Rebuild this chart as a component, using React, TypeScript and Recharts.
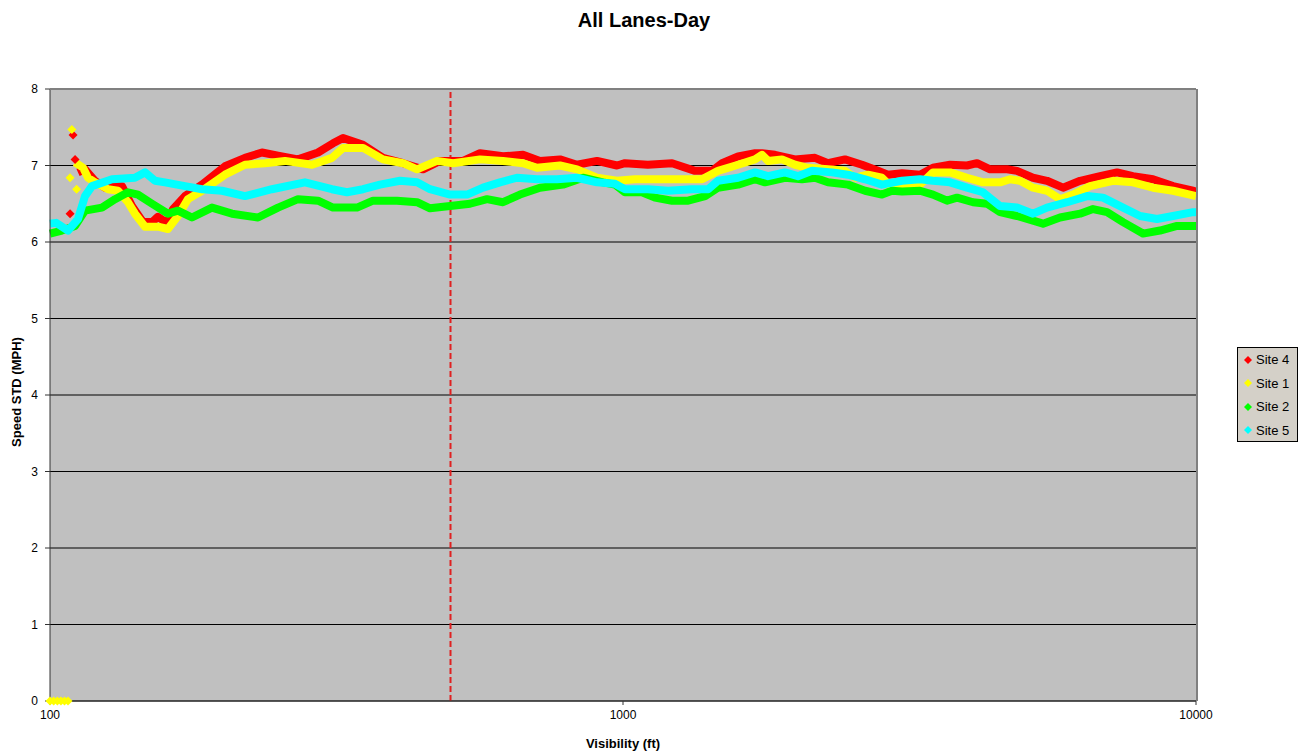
import React from "react";
import {
  ComposedChart,
  Line,
  Scatter,
  XAxis,
  YAxis,
  CartesianGrid,
  ReferenceLine,
} from "recharts";

// visibility (ft) vs speed std (mph)
const VIS_TICKS = [100, 1000, 10000];
const STD_TICKS = [0, 1, 2, 3, 4, 5, 6, 7, 8];
const VIS_CUTOFF = 500;

const site4: [number, number][] = [
  [111.9, 6.91], [115.1, 6.95], [119.8, 6.8], [124.7, 6.71], [128.3, 6.73], [133.6, 6.73],
  [139, 6.47], [144.7, 6.28], [150.7, 6.26], [154.3, 6.33], [160.6, 6.24], [163.9, 6.43],
  [172, 6.6], [184.2, 6.75], [202, 6.99], [218.9, 7.1], [234.4, 7.17], [250, 7.13],
  [270.9, 7.08], [293.6, 7.17], [311.8, 7.29], [324.6, 7.36], [351.8, 7.27], [381.2, 7.1],
  [413.2, 7.03], [447.7, 6.95], [479.4, 7.06], [525.8, 7.06], [562.9, 7.16], [617.4, 7.12],
  [669.1, 7.14], [716.4, 7.06], [776.3, 7.08], [831.2, 7.01], [900.8, 7.06], [976.1, 7.0],
  [1008, 7.03], [1105, 7.01], [1218, 7.03], [1336, 6.93], [1430, 6.93], [1489, 7.03],
  [1588, 7.12], [1700, 7.16], [1748, 7.16], [1842, 7.14], [1996, 7.08], [2163, 7.1],
  [2279, 7.03], [2440, 7.08], [2613, 7.01], [2786, 6.93], [2900, 6.88], [3069, 6.9],
  [3299, 6.88], [3475, 6.97], [3722, 7.01], [3985, 7.0], [4148, 7.03], [4371, 6.95],
  [4680, 6.95], [4871, 6.93], [5194, 6.84], [5495, 6.8], [5861, 6.71], [6277, 6.8],
  [6800, 6.86], [7281, 6.91], [7762, 6.86], [8414, 6.82], [9118, 6.73], [9880, 6.67],
  [10000, 6.66],
];
const site4Stray: [number, number][] = [[108.4, 6.37], [109.7, 7.4], [110.6, 7.08]];

const site1: [number, number][] = [
  [110.6, 7.04], [114.2, 6.97], [116.5, 6.84], [119.8, 6.78], [126.3, 6.69], [131.4, 6.67],
  [136.8, 6.52], [140.7, 6.37], [146.5, 6.2], [154.3, 6.2], [160.6, 6.17], [167.2, 6.34],
  [174.1, 6.56], [184.2, 6.67], [202, 6.88], [218.9, 7.01], [237.3, 7.03], [257.1, 7.06],
  [286.6, 7.01], [310.5, 7.1], [324.6, 7.23], [351.8, 7.23], [381.2, 7.08], [413.2, 7.03],
  [437.1, 6.95], [473.6, 7.06], [505.1, 7.03], [562.9, 7.08], [617.4, 7.06], [669.1, 7.03],
  [707.8, 6.97], [776.3, 7.0], [831.2, 6.95], [900.8, 6.84], [976.1, 6.8], [1049, 6.82],
  [1151, 6.82], [1268, 6.82], [1374, 6.82], [1465, 6.93], [1588, 7.01], [1700, 7.08],
  [1748, 7.14], [1791, 7.06], [1894, 7.08], [1996, 7.01], [2103, 6.97], [2279, 6.95],
  [2440, 6.93], [2541, 6.84], [2676, 6.88], [2831, 6.84], [2947, 6.71], [3069, 6.75],
  [3299, 6.75], [3475, 6.91], [3722, 6.91], [3985, 6.84], [4249, 6.78], [4550, 6.78],
  [4737, 6.82], [4930, 6.8], [5194, 6.71], [5495, 6.67], [5790, 6.56], [6102, 6.62],
  [6531, 6.73], [7165, 6.8], [7762, 6.78], [8414, 6.71], [9118, 6.67], [9880, 6.61],
  [10000, 6.6],
];
const site1Stray: [number, number][] = [
  [100, 0], [101.5, 0], [103, 0], [104.5, 0], [106, 0], [107.5, 0],
  [108.4, 6.84], [109.2, 7.47], [111.3, 6.69],
];

const site2: [number, number][] = [
  [100, 6.11], [104.9, 6.15], [110.6, 6.21], [115.1, 6.41], [123.2, 6.45], [129.9, 6.56],
  [136.8, 6.65], [142.4, 6.62], [150.7, 6.5], [160.6, 6.37], [167.2, 6.41], [176.9, 6.32],
  [191.7, 6.45], [207.8, 6.37], [230.7, 6.32], [250, 6.45], [270.9, 6.56], [293.6, 6.54],
  [311.8, 6.45], [343.4, 6.45], [366.2, 6.54], [403.3, 6.54], [437.1, 6.52], [460.5, 6.44],
  [499.1, 6.47], [540.8, 6.5], [579, 6.56], [617.4, 6.52], [661, 6.62], [716.4, 6.71],
  [785.7, 6.75], [851.5, 6.84], [922.8, 6.78], [968.3, 6.75], [1008, 6.65], [1079, 6.65],
  [1137, 6.58], [1218, 6.54], [1299, 6.54], [1391, 6.6], [1465, 6.71], [1588, 6.75],
  [1700, 6.82], [1769, 6.78], [1917, 6.84], [2053, 6.82], [2163, 6.84], [2279, 6.78],
  [2470, 6.75], [2645, 6.67], [2831, 6.62], [2947, 6.67], [3069, 6.66], [3299, 6.67],
  [3475, 6.62], [3677, 6.54], [3828, 6.58], [4082, 6.52], [4318, 6.5], [4550, 6.39],
  [4871, 6.34], [5194, 6.28], [5408, 6.24], [5790, 6.32], [6277, 6.37], [6611, 6.43],
  [6995, 6.39], [7459, 6.26], [8081, 6.11], [8654, 6.15], [9266, 6.21], [9880, 6.21],
  [10000, 6.21],
];

const site5: [number, number][] = [
  [100, 6.24], [102.5, 6.25], [107.5, 6.15], [111.9, 6.3], [115.1, 6.6], [118.4, 6.73],
  [128.3, 6.82], [140.7, 6.84], [146.5, 6.91], [152.5, 6.8], [158.7, 6.78], [172, 6.73],
  [184.2, 6.69], [199.6, 6.67], [218.9, 6.6], [243.9, 6.69], [278.6, 6.78], [310.5, 6.69],
  [329.9, 6.65], [351.8, 6.69], [376.6, 6.75], [408.2, 6.8], [437.1, 6.78], [460.5, 6.69],
  [499.1, 6.62], [534.3, 6.62], [569.8, 6.71], [610, 6.78], [653.1, 6.84], [707.8, 6.82],
  [766.9, 6.82], [831.2, 6.84], [900.8, 6.78], [968.3, 6.76], [1008, 6.69], [1105, 6.69],
  [1198, 6.67], [1320, 6.69], [1408, 6.69], [1465, 6.8], [1588, 6.84], [1700, 6.91],
  [1791, 6.86], [1917, 6.91], [2020, 6.86], [2137, 6.93], [2316, 6.91], [2470, 6.88],
  [2645, 6.82], [2831, 6.75], [3069, 6.8], [3299, 6.82], [3475, 6.8], [3722, 6.78],
  [3985, 6.71], [4249, 6.65], [4550, 6.47], [4871, 6.45], [5194, 6.37], [5495, 6.45],
  [5957, 6.52], [6456, 6.6], [6883, 6.58], [7370, 6.47], [7985, 6.34], [8550, 6.3],
  [9118, 6.34], [9880, 6.39], [10000, 6.39],
];

const SERIES = [
  { name: "Site 4", color: "#ff0000", band: site4, stray: site4Stray },
  { name: "Site 1", color: "#ffff00", band: site1, stray: site1Stray },
  { name: "Site 2", color: "#00ff00", band: site2, stray: [] as [number, number][] },
  { name: "Site 5", color: "#00ffff", band: site5, stray: [] as [number, number][] },
];

const FONT = "'Liberation Sans', Arial, sans-serif";

const toPts = (arr: [number, number][]) => arr.map(([x, y]) => ({ x, y }));

const Diamond = (props: any) => {
  const { cx, cy, fill } = props;
  if (cx == null || cy == null) return null;
  const r = 4.5;
  return (
    <polygon
      points={`${cx},${cy - r} ${cx + r},${cy} ${cx},${cy + r} ${cx - r},${cy}`}
      fill={fill}
    />
  );
};

export default function App() {
  return (
    <div
      style={{
        position: "absolute",
        left: 0,
        top: 0,
        width: 1308,
        height: 754,
        background: "#fff",
        fontFamily: FONT,
      }}
    >
      <div
        style={{
          position: "absolute",
          top: 9,
          left: 0,
          width: 1288,
          textAlign: "center",
          fontWeight: "bold",
          fontSize: 20,
        }}
      >
        All Lanes-Day
      </div>

      <ComposedChart
        width={1308}
        height={754}
        margin={{ top: 89, right: 112, bottom: 28, left: 20 }}
      >
        <CartesianGrid fill="#c0c0c0" stroke="#000" vertical={false} strokeWidth={1} />
        <XAxis
          dataKey="x"
          type="number"
          scale="log"
          domain={[100, 10000]}
          ticks={VIS_TICKS}
          height={25}
          stroke="#333"
          tickSize={4}
          tickMargin={5}
          tick={{ fill: "#000", fontSize: 12, fontFamily: FONT }}
        />
        <YAxis
          dataKey="y"
          type="number"
          domain={[0, 8]}
          ticks={STD_TICKS}
          width={30}
          stroke="#333"
          tickSize={5}
          tickMargin={7}
          tick={{ fill: "#000", fontSize: 12, fontFamily: FONT }}
        />
        <ReferenceLine
          x={VIS_CUTOFF}
          stroke="#e02020"
          strokeWidth={2}
          strokeDasharray="6 3"
        />
        {SERIES.map((s) => (
          <Line
            key={s.name + "-band"}
            data={toPts(s.band)}
            dataKey="y"
            stroke={s.color}
            strokeWidth={8}
            strokeLinejoin="round"
            dot={false}
            activeDot={false}
            isAnimationActive={false}
          />
        ))}
        {SERIES.filter((s) => s.stray.length > 0).map((s) => (
          <Scatter
            key={s.name + "-stray"}
            data={toPts(s.stray)}
            dataKey="y"
            fill={s.color}
            shape={Diamond}
            isAnimationActive={false}
          />
        ))}
      </ComposedChart>

      {/* plot frame */}
      <div
        style={{
          position: "absolute",
          left: 50,
          top: 89,
          width: 1146,
          height: 611,
          borderTop: "1px solid #808080",
          borderRight: "2px solid #808080",
          pointerEvents: "none",
        }}
      />

      <div
        style={{
          position: "absolute",
          top: 736,
          left: 50,
          width: 1146,
          textAlign: "center",
          fontWeight: "bold",
          fontSize: 13,
        }}
      >
        Visibility (ft)
      </div>
      <div
        style={{
          position: "absolute",
          left: 16,
          top: 392,
          transform: "translate(-50%, -50%) rotate(-90deg)",
          whiteSpace: "nowrap",
          fontWeight: "bold",
          fontSize: 13,
        }}
      >
        Speed STD (MPH)
      </div>

      <div
        style={{
          position: "absolute",
          left: 1237,
          top: 347,
          width: 61,
          height: 95,
          border: "1px solid #000",
          background: "#d4d0c8",
          boxSizing: "border-box",
        }}
      >
        {SERIES.map((s) => (
          <div
            key={s.name}
            style={{ display: "flex", alignItems: "center", height: 23.5, fontSize: 13 }}
          >
            <svg width={16} height={12} style={{ marginLeft: 2 }}>
              <polygon points="8,2 12,6 8,10 4,6" fill={s.color} />
            </svg>
            <span>{s.name}</span>
          </div>
        ))}
      </div>
    </div>
  );
}
